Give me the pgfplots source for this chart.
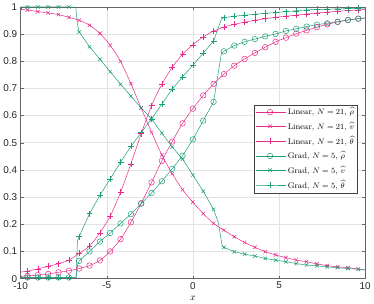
\documentclass[border=0pt]{standalone}
\usepackage{fontspec}
\usepackage{pgfplots}
\usepackage{pgfplotstable}
\pgfplotsset{compat=1.18}
\newfontfamily\tickfont{Liberation Sans}
\definecolor{pnk}{HTML}{E7298A}
\definecolor{grn}{HTML}{1B9E77}

\pgfplotstableread{
x lr lv lt gr gv gt
-9.6 .010 .988 .027 .004 .999 .004
-9.0 .013 .982 .036 .004 .999 .004
-8.4 .017 .977 .045 .004 .999 .004
-7.8 .023 .971 .055 .004 .999 .004
-7.2 .029 .961 .068 .004 .999 .004
-6.6 .037 .950 .093 .065 .907 .154
-6.0 .048 .932 .120 .100 .853 .239
-5.4 .067 .902 .168 .136 .807 .306
-4.8 .100 .858 .230 .168 .761 .367
-4.2 .145 .799 .317 .203 .715 .428
-3.6 .207 .717 .422 .237 .671 .486
-3.0 .277 .627 .533 .276 .628 .537
-2.4 .354 .538 .636 .315 .587 .587
-1.8 .433 .455 .715 .358 .535 .642
-1.2 .504 .386 .777 .404 .484 .697
-0.6 .571 .327 .825 .452 .440 .742
0.0 .625 .281 .860 .512 .381 .785
0.6 .674 .239 .889 .581 .321 .829
1.2 .716 .203 .910 .650 .255 .874
1.8 .752 .178 .925 .836 .115 .960
2.4 .783 .154 .935 .857 .099 .965
3.0 .808 .133 .943 .871 .090 .969
3.6 .830 .115 .950 .881 .083 .972
4.2 .851 .099 .956 .891 .074 .976
4.8 .871 .087 .961 .900 .068 .978
5.4 .886 .077 .965 .911 .062 .982
6.0 .901 .068 .969 .919 .055 .985
6.6 .913 .062 .973 .927 .050 .988
7.2 .925 .054 .977 .934 .047 .990
7.8 .935 .048 .980 .939 .043 .991
8.4 .944 .043 .983 .945 .040 .992
9.0 .951 .040 .986 .951 .037 .993
9.6 .956 .035 .988 .956 .034 .994
}\T

\pgfplotstableread{
x y
-10 .004
-7.2 .004
-6.78 .004
-6.70 .047
-6.6 .065
-6.0 .100
-5.4 .136
-4.8 .168
-4.2 .203
-3.6 .237
-3.0 .276
-2.4 .315
-1.8 .358
-1.2 .404
-0.6 .452
0.0 .512
0.6 .581
1.2 .650
1.66 .830
1.8 .836
2.4 .857
3.0 .871
3.6 .881
4.2 .891
4.8 .900
5.4 .911
6.0 .919
6.6 .927
7.2 .934
7.8 .939
8.4 .945
9.0 .951
9.6 .956
10 .958
}\GR

\pgfplotstableread{
x y
-10 .999
-7.2 .999
-6.80 .998
-6.70 .935
-6.6 .907
-6.0 .853
-5.4 .807
-4.8 .761
-4.2 .715
-3.6 .671
-3.0 .628
-2.4 .587
-1.8 .535
-1.2 .484
-0.6 .440
0.0 .381
0.6 .321
1.2 .255
1.48 .205
1.70 .120
1.8 .115
2.4 .099
3.0 .090
3.6 .083
4.2 .074
4.8 .068
5.4 .062
6.0 .055
6.6 .050
7.2 .047
7.8 .043
8.4 .040
9.0 .037
9.6 .034
10 .032
}\GV

\pgfplotstableread{
x y
-10 .004
-7.2 .004
-6.78 .004
-6.70 .140
-6.6 .154
-6.0 .239
-5.4 .306
-4.8 .367
-4.2 .428
-3.6 .486
-3.0 .537
-2.4 .587
-1.8 .642
-1.2 .697
-0.6 .742
0.0 .785
0.6 .829
1.2 .874
1.66 .955
1.8 .960
2.4 .965
3.0 .969
3.6 .972
4.2 .976
4.8 .978
5.4 .982
6.0 .985
6.6 .988
7.2 .990
7.8 .991
8.4 .992
9.0 .993
9.6 .994
10 .995
}\GT

\begin{document}
\begin{tikzpicture}
\begin{axis}[
  scale only axis,
  width=346bp, height=273bp,
  xmin=-10, xmax=10, ymin=0, ymax=1,
  xtick={-10,-5,0,5,10},
  ytick={0,0.1,0.2,0.3,0.4,0.5,0.6,0.7,0.8,0.9,1},
  /pgf/number format/assume math mode=true,
  tick label style={font=\tickfont\fontsize{10}{12}\selectfont, black!85},
  xlabel={$x$},
  xlabel style={font=\fontsize{10}{12}\selectfont},
  grid=major,
  major grid style={gray!22},
  axis line style={black!60},
  tick style={black!60},
  major tick length=3bp,
  every axis plot/.append style={line width=0.5pt},
  legend style={at={(0.977,0.64)}, anchor=north east, draw=black!75, fill=white,
    font=\fontsize{8.2}{9.5}\selectfont, cells={anchor=west}, inner sep=1pt, row sep=1.6pt},
  legend image code/.code={\draw[mark repeat=2,mark phase=2] plot coordinates {(0cm,0cm)(0.5cm,0cm)(1.05cm,0cm)};},
]
% Linear rho
\addplot[pnk, smooth, mark=o, mark size=2.8pt, forget plot] table[x=x,y=lr]{\T};
\addplot[pnk, forget plot] coordinates {(-10,.009)(-9.6,.010)};
\addplot[pnk, forget plot] coordinates {(9.6,.956)(10,.959)};
% Linear v
\addplot[pnk, smooth, mark=x, mark size=2.5pt, forget plot] table[x=x,y=lv]{\T};
\addplot[pnk, forget plot] coordinates {(-10,.990)(-9.6,.988)};
\addplot[pnk, forget plot] coordinates {(9.6,.035)(10,.032)};
% Linear theta
\addplot[pnk, smooth, mark=+, mark size=3pt, forget plot] table[x=x,y=lt]{\T};
\addplot[pnk, forget plot] coordinates {(-10,.024)(-9.6,.027)};
\addplot[pnk, forget plot] coordinates {(9.6,.988)(10,.990)};
% Grad lines
\addplot[grn, forget plot] table[x=x,y=y]{\GR};
\addplot[grn, forget plot] table[x=x,y=y]{\GV};
\addplot[grn, forget plot] table[x=x,y=y]{\GT};
% Grad marks
\addplot[grn, only marks, mark=o, mark size=2.8pt, forget plot] table[x=x,y=gr]{\T};
\addplot[grn, only marks, mark=x, mark size=2.5pt, forget plot] table[x=x,y=gv]{\T};
\addplot[grn, only marks, mark=+, mark size=3pt, forget plot] table[x=x,y=gt]{\T};

\addlegendimage{pnk, line width=0.5pt, mark=o, mark size=2.8pt}
\addlegendentry{Linear, $N=21$, $\widehat{\rho}$}
\addlegendimage{pnk, line width=0.5pt, mark=x, mark size=2.5pt}
\addlegendentry{Linear, $N=21$, $\widehat{v}$}
\addlegendimage{pnk, line width=0.5pt, mark=+, mark size=3pt}
\addlegendentry{Linear, $N=21$, $\widehat{\theta}$}
\addlegendimage{grn, line width=0.5pt, mark=o, mark size=2.8pt}
\addlegendentry{Grad, $N=5$, $\widehat{\rho}$}
\addlegendimage{grn, line width=0.5pt, mark=x, mark size=2.5pt}
\addlegendentry{Grad, $N=5$, $\widehat{v}$}
\addlegendimage{grn, line width=0.5pt, mark=+, mark size=3pt}
\addlegendentry{Grad, $N=5$, $\widehat{\theta}$}
\end{axis}
\end{tikzpicture}
\end{document}
